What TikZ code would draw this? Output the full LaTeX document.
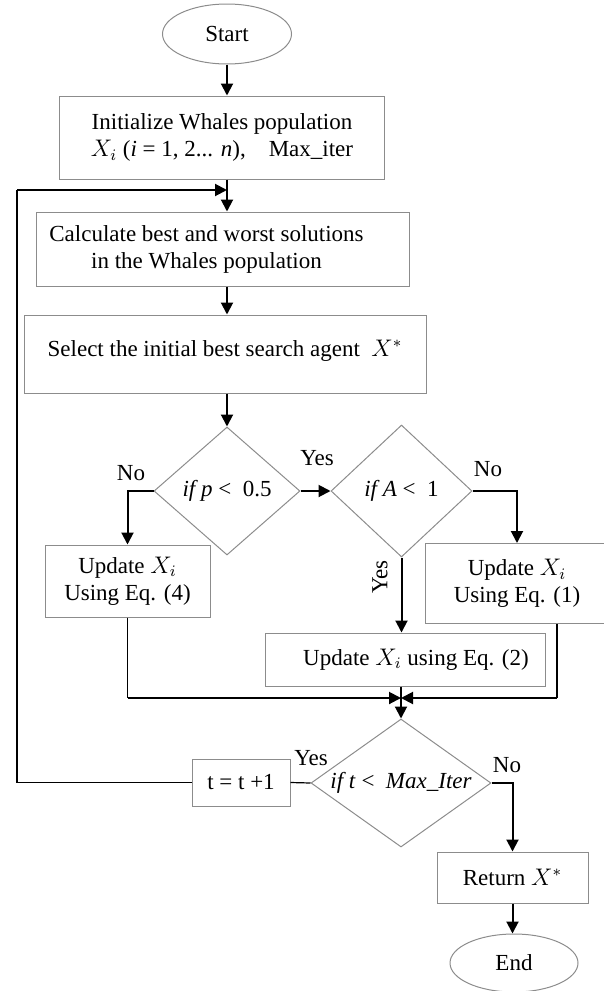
\documentclass[tikz,border=0pt]{standalone}
\usepackage{fontspec}
\setmainfont{Liberation Serif}
\usetikzlibrary{arrows.meta,shapes.geometric}

\tikzset{
  box/.style={draw=black!45, line width=0.5pt, align=center, inner sep=2pt},
  decision/.style={diamond, draw=black!45, line width=0.5pt, inner sep=0pt, align=center},
  terminal/.style={ellipse, draw=black!45, line width=0.5pt},
  flow/.style={->, line width=1pt},
  wire/.style={line width=0.6pt},
  tag/.style={inner sep=0pt}
}

\begin{document}
\begin{tikzpicture}[x=0.5pt, y=-0.5pt, >={Triangle[length=6pt,width=6pt]},
    font=\fontsize{11.5}{13.5}\selectfont]

  \useasboundingbox (0,0) rectangle (604,991);

  % main column
  \node [terminal, minimum width=64.5pt, minimum height=30pt] (start) at (227,34) {Start};
  \node [box, minimum width=162.5pt, minimum height=41.5pt] (init) at (222,137.5)
    {Initialize Whales population\\ $X_i$ (\textit{i} = 1, 2... \textit{n}),\quad Max\_iter};
  \node [box, minimum width=186.5pt, minimum height=37pt] (calc) at (222.5,249)
    {Calculate best and worst solutions\hspace*{16pt}\\ in the Whales population\hspace*{16pt}};
  \node [box, minimum width=201pt, minimum height=39pt] (sel) at (225,354)
    {\raisebox{6pt}{Select the initial best search agent\ \ $X^*$}};

  % decisions
  \node [decision, aspect=1.14, minimum width=73pt, minimum height=64pt] (d1) at (227,491)
    {\textit{if p} <\ \ 0.5};
  \node [decision, aspect=1.07, minimum width=70.5pt, minimum height=66pt] (d2) at (401.5,491)
    {\textit{if A} <\ \ 1};

  \node [box, minimum width=82.5pt, minimum height=36pt] (up4) at (127.5,581)
    {Update $X_i$\\ Using Eq. (4)};
  \node [box, minimum width=92pt, minimum height=40pt] (up1) at (517,583.5)
    {Update $X_i$\\ Using Eq. (1)};
  \node [box, minimum width=140pt, minimum height=26.5pt] (up2) at (405,659.5)
    {\hspace*{11pt}Update $X_i$ using Eq. (2)};

  \coordinate (merge) at (401,698);
  \coordinate (drop) at ([xshift=20pt]up1.south);

  \node [decision, aspect=1.4, minimum width=90pt, minimum height=64pt] (d3) at (401,783)
    {\textit{if t} <\ \ \textit{Max\_Iter}};
  \node [box, minimum width=49pt, minimum height=23.5pt] (tinc) at (241,782.5) {t = t +1};
  \node [box, minimum width=75.5pt, minimum height=25.5pt] (ret) at (512.5,877.5) {Return $X^*$};
  \node [terminal, minimum width=64pt, minimum height=29pt] (stop) at (514,963) {End};

  \coordinate (back) at (17,190);

  % branch labels
  \node [tag] (yes-a) at (317,458) {Yes};
  \node [tag] (no-a) at (131,473) {No};
  \node [tag] (no-b) at (488,469) {No};
  \node [tag, rotate=90] (yes-b) at (380,577) {Yes};
  \node [tag] (yes-c) at (311,758) {Yes};
  \node [tag] (no-c) at (507,765) {No};

  \draw [flow] (start.south) -- (start.south |- init.north);
  \draw [flow] (init.south -| start) -- (calc.north -| start);
  \draw [flow] (calc.south -| start) -- (sel.north -| start);
  \draw [flow] (sel.south -| d1) -- (d1.north);

  \draw [flow] (d1.east) -- (d2.west);
  \draw [flow] (d1.west) -| (up4.north);
  \draw [flow] (d2.east) -| (up1.north);
  \draw [flow] (d2.south) -- (d2.south |- up2.north);

  \draw [wire] (up4.south) -- (up4.south |- merge);
  \draw [flow] (up4.south |- merge) -- (merge);
  \draw [wire] (drop) -- (drop |- merge);
  \draw [flow] (drop |- merge) -- (merge);
  \draw [flow] (up2.south -| d3) -- (d3.north);

  \draw [flow] (d3.east) -| (ret.north);
  \draw [flow] (ret.south) -- (ret.south |- stop.north);

  % loop back
  \draw [wire] (d3.west) -- (tinc.east);
  \draw [wire] (tinc.west) -| (back);
  \draw [flow] (back) -- (back -| start);

\end{tikzpicture}
\end{document}
